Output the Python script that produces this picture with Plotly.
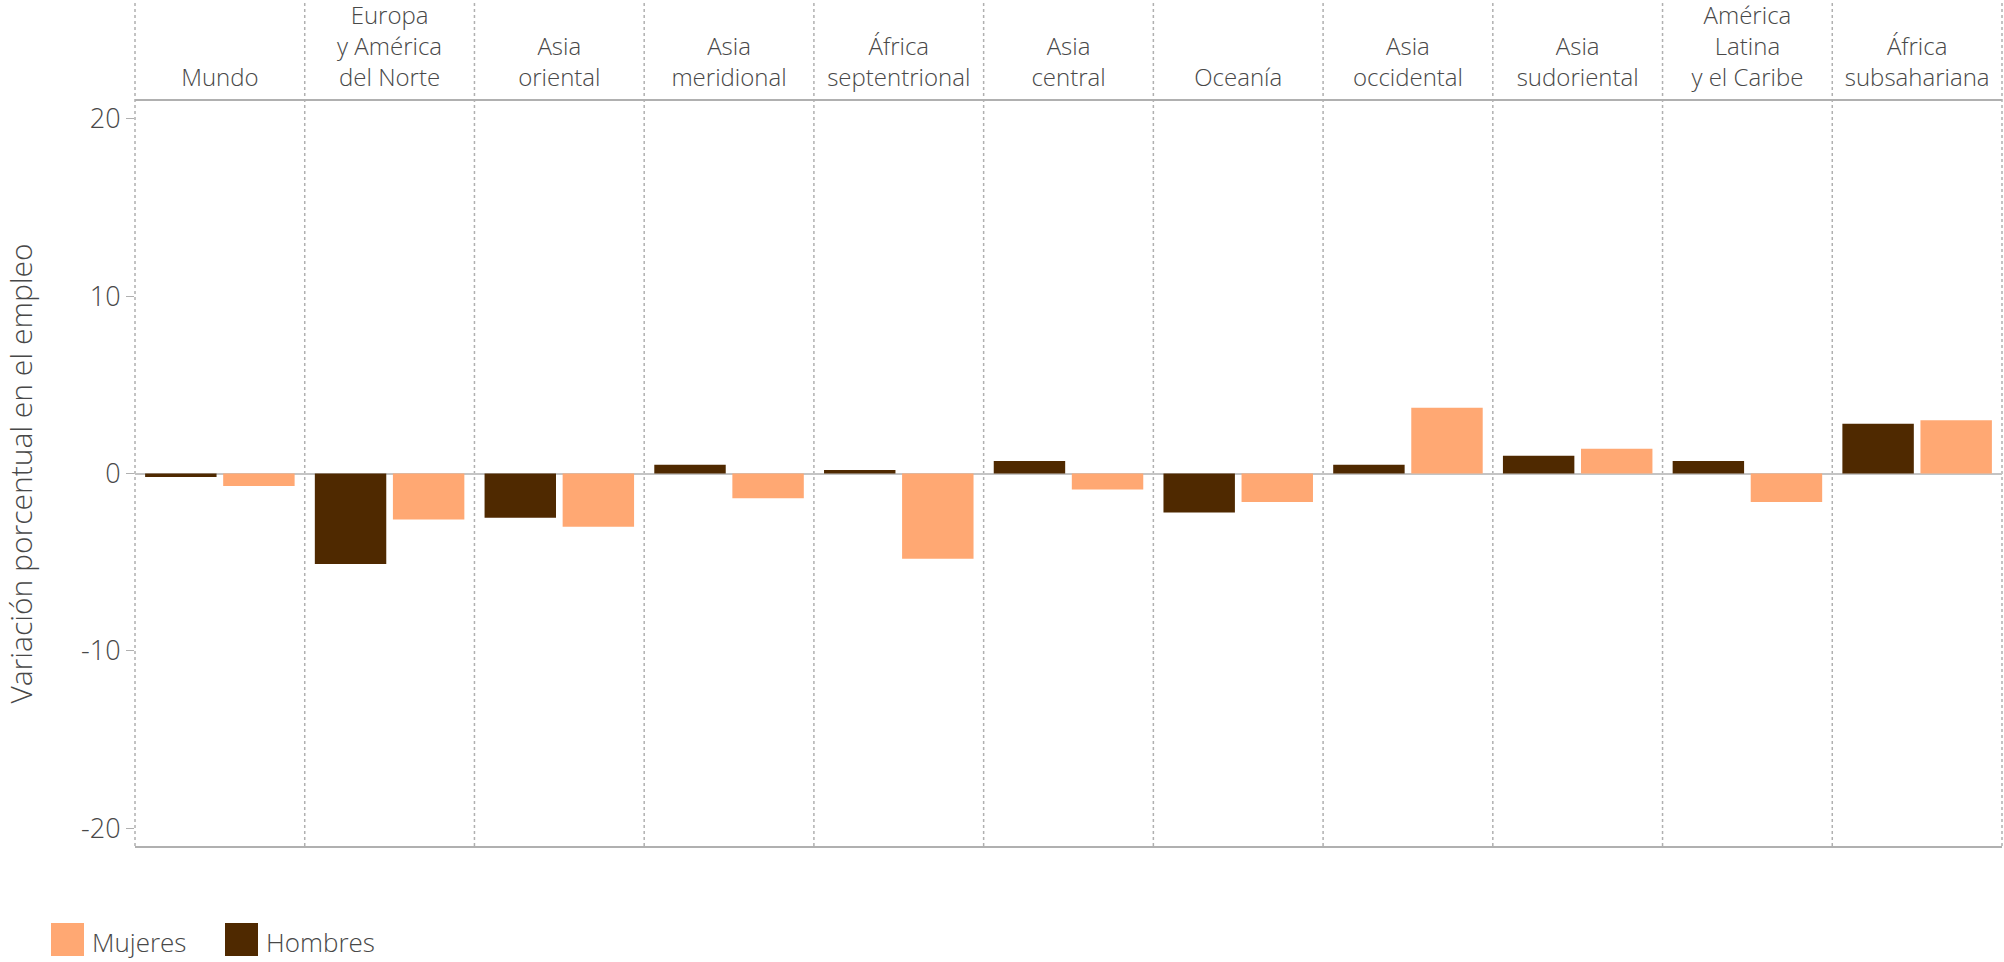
import plotly.graph_objects as go

# ---- data ----
categories = ["Mundo", "Europa<br>y América<br>del Norte", "Asia<br>oriental",
              "Asia<br>meridional", "África<br>septentrional", "Asia<br>central",
              "Oceanía", "Asia<br>occidental", "Asia<br>sudoriental",
              "América<br>Latina<br>y el Caribe", "África<br>subsahariana"]
hombres = [-0.2, -5.1, -2.5, 0.5, 0.2, 0.7, -2.2, 0.5, 1.0, 0.7, 2.8]
mujeres = [-0.7, -2.6, -3.0, -1.4, -4.8, -0.9, -1.6, 3.7, 1.4, -1.6, 3.0]
y_ticks = [-20, -10, 0, 10, 20]
series_names = ["Mujeres", "Hombres"]

# ---- styles ----
C_H = "#4f2900"
C_M = "#ffa873"
TXT = "#484848"
GRID = "#b0b0b0"
FONT = "Open Sans"
W, H = 2004, 962
ML, MR, MT, MB = 135, 2, 101, 116
PW, PH = W - ML - MR, H - MT - MB

def px_x(p):
    return (p - ML) / PW

def px_y(p):
    return (H - MB - p) / PH

fig = go.Figure()
fig.add_trace(go.Bar(x=categories, y=hombres, name=series_names[1],
                     marker=dict(color=C_H, line=dict(width=0)), showlegend=False))
fig.add_trace(go.Bar(x=categories, y=mujeres, name=series_names[0],
                     marker=dict(color=C_M, line=dict(width=0)), showlegend=False))

shapes = []
# category separators (inside)
for i in range(len(categories) - 1):
    shapes.append(dict(type="line", xref="x", yref="paper", x0=i + 0.5, x1=i + 0.5,
                       y0=0, y1=1.2, line=dict(color=GRID, width=1.5, dash="dot"),
                       layer="below"))
# plot edges
for xe in (0, 1):
    shapes.append(dict(type="line", xref="paper", yref="paper", x0=xe, x1=xe,
                       y0=0, y1=1.2, line=dict(color=GRID, width=1.5, dash="dot"),
                       layer="below"))

# manual legend
legend_items = [(series_names[0], C_M, 51), (series_names[1], C_H, 225)]
annotations = []
for name, col, x0 in legend_items:
    shapes.append(dict(type="rect", xref="paper", yref="paper",
                       x0=px_x(x0), x1=px_x(x0 + 33), y0=px_y(923), y1=px_y(956),
                       fillcolor=col, line=dict(width=0)))
    annotations.append(dict(text=name, xref="paper", yref="paper",
                            x=px_x(x0 + 39), y=px_y(942), xanchor="left",
                            yanchor="middle", showarrow=False,
                            font=dict(family=FONT, size=26, color=TXT, weight=300)))

fig.update_layout(
    width=W, height=H,
    margin=dict(l=ML, r=MR, t=MT, b=MB, autoexpand=False),
    paper_bgcolor="white", plot_bgcolor="white",
    barmode="group", bargap=0.08, bargroupgap=0.085,
    font=dict(family=FONT, size=26, color=TXT, weight=300),
    shapes=shapes, annotations=annotations,
    showlegend=False,
    xaxis=dict(side="top", showline=True, mirror=True, linecolor=GRID, linewidth=2,
               showgrid=False, ticks="", ticklabelstandoff=3,
               tickfont=dict(family=FONT, size=24, color=TXT, weight=300),
               fixedrange=True),
    yaxis=dict(range=[-21, 21], tickvals=y_ticks, ticktext=[str(v) for v in y_ticks],
               showgrid=False, zeroline=True, zerolinecolor="#c4c4c4", zerolinewidth=2,
               showline=False, ticks="outside", ticklen=8, tickcolor=GRID, tickwidth=1,
               tickfont=dict(family=FONT, size=27, color=TXT, weight=300),
               title=dict(text="Variación porcentual en el empleo",
                          font=dict(family=FONT, size=30, color=TXT, weight=300),
                          standoff=44),
               layer="above traces", fixedrange=True),
)

fig.write_html("out.html", config={"displayModeBar": False, "staticPlot": True},
               post_script="document.body.style.margin='0';")
